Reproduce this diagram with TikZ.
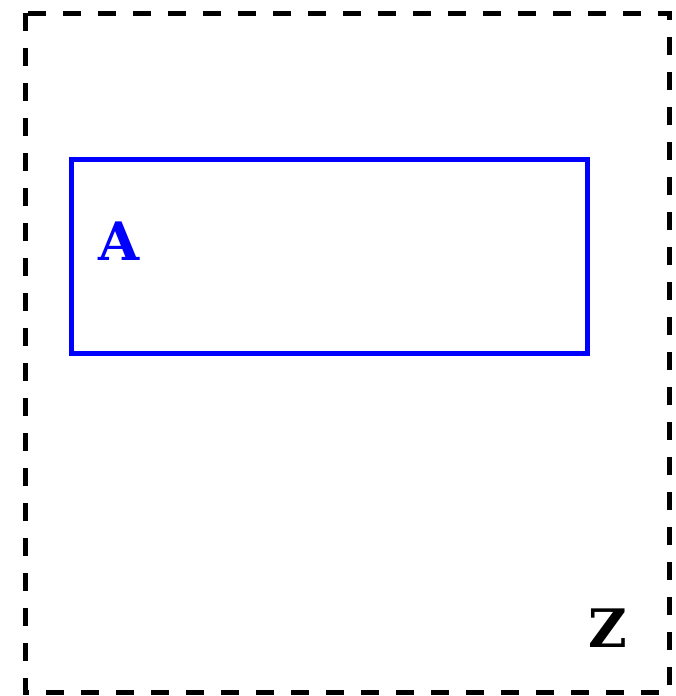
\documentclass[tikz,border=0pt]{standalone}
\usepackage{fontspec}
\newfontfamily\monob{DejaVu Serif}
\definecolor{myblue}{RGB}{0,0,255}
\begin{document}
\begin{tikzpicture}[x=1pt,y=-1pt,
  outerbox/.style={draw=black,line width=5pt,dash pattern=on 18pt off 17pt},
  innerbox/.style={draw=myblue,line width=5pt},
  lbl/.style={font=\monob\bfseries\fontsize{53}{53}\selectfont,inner sep=0pt}]
\useasboundingbox (0,0) rectangle (675,696);
\draw[outerbox] (25,13) rectangle (669,692);
\node[innerbox,minimum width=516pt,minimum height=194pt,inner sep=0pt] (A) at (329,256) {};
\node[lbl,text=myblue] (la) at (119.5,241) {A};
\node[lbl,text=black] (lz) at (608,628) {Z};
\end{tikzpicture}
\end{document}
